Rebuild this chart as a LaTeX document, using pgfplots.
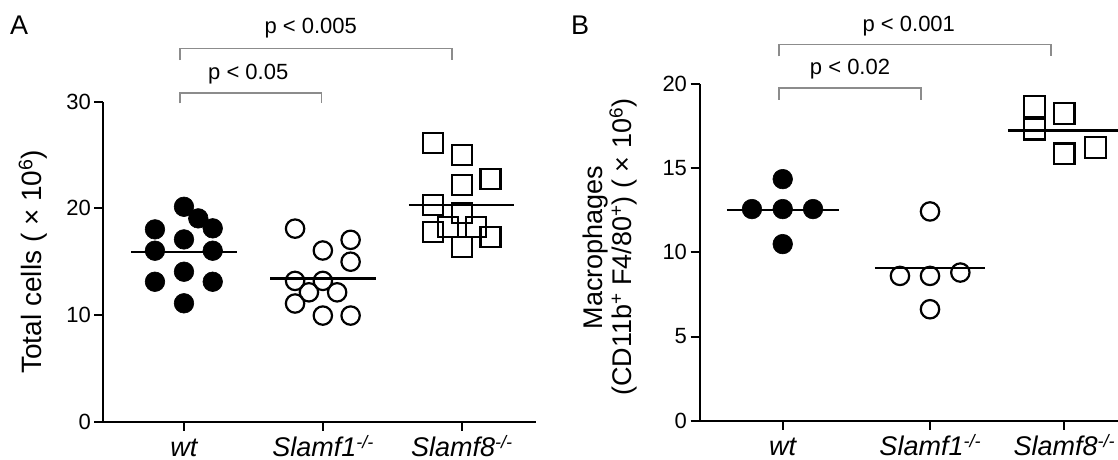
\documentclass[border=0pt]{standalone}
\usepackage{fontspec}
\setmainfont{Liberation Sans}
\usepackage{pgfplots}
\pgfplotsset{compat=1.18}

% knockout superscript on the category names
\newcommand{\ko}{\raisebox{8pt}{\fontsize{18}{18}\selectfont -/-}}

\pgfplotsset{
  dotplot/.style={
    scale only axis, anchor=south west, clip=false,
    axis lines*=left,
    axis line style={line width=2pt, black},
    tick align=outside, major tick length=9pt,
    tick style={line width=2pt, black},
    /pgf/number format/assume math mode=true,
    yticklabel style={font=\fontsize{22}{26}\selectfont},
    xticklabel style={font=\fontsize{27}{30}\selectfont\itshape,
      anchor=base, yshift=-25.8pt},
  },
  meanline/.style={black, line width=2.4pt, no marks},
  filled/.style={only marks, mark=*, mark size=9.8pt,
    mark options={fill=black, draw=black, line width=0.6pt}},
  opencirc/.style={only marks, mark=o, mark size=9.2pt,
    mark options={fill=white, draw=black, line width=2.2pt}},
  opensq/.style={only marks, mark=square, mark size=10pt,
    mark options={fill=white, draw=black, line width=2.2pt}},
}
\tikzset{
  bracket/.style={black!45, line width=1.4pt},
  plabel/.style={anchor=base, font=\fontsize{22}{26}\selectfont},
}

\begin{document}
\begin{tikzpicture}[x=1pt,y=1pt]
\useasboundingbox (0,0) rectangle (1118,460);
\clip (0,0) rectangle (1118,460);

% ---------------- panel A ----------------
\begin{axis}[dotplot,
  at={(103.3pt,38.3pt)}, width=432.4pt, height=320pt,
  xmin=-0.581, xmax=2.533, ymin=0, ymax=30,
  xtick={0,1,2},
  xticklabels={{wt},{Slamf1\ko},{Slamf8\ko}},
  ytick={0,10,20,30},
  ylabel={Total cells ( × 10\textsuperscript{6})},
  ylabel style={font=\fontsize{28}{32}\selectfont,
    at={(axis description cs:-0.163,0.5)}, anchor=center},
]
% group means
\addplot[meanline] coordinates {(-0.38,15.93) (0.38,15.93)};
\addplot[meanline] coordinates {(0.62,13.44) (1.38,13.44)};
\addplot[meanline] coordinates {(1.62,20.31) (2.38,20.31)};
% wt
\addplot[filled] coordinates {
  (0,20.15) (0.103,19.06) (0.207,18.13) (-0.209,18.03) (0,17.09)
  (-0.209,16.03) (0.207,16.03) (0,14.06) (-0.209,13.12) (0.207,13.12)
  (0,11.10)};
% Slamf1-/-
\addplot[opencirc] coordinates {
  (0.8,18.1) (1,16.05) (1.2,17.05) (1.2,15.0) (0.8,13.2) (1,13.2)
  (0.9,12.13) (1.103,12.13) (0.8,11.08) (1,9.95) (1.2,9.95)};
% Slamf8-/-
\addplot[opensq] coordinates {
  (1.795,26.15) (2,25.0) (2.208,22.72) (2,22.18) (1.795,20.31)
  (2,19.53) (1.903,18.28) (2.103,18.28) (1.795,17.81) (2.208,17.28)
  (2,16.40)};
% significance brackets
\draw[bracket] (axis cs:-0.029,29.84) -- (axis cs:-0.029,30.83)
  -- (axis cs:0.99,30.83) -- (axis cs:0.99,29.84);
\draw[bracket] (axis cs:-0.029,33.9) -- (axis cs:-0.029,35.0)
  -- (axis cs:1.93,35.0) -- (axis cs:1.93,33.9);
\node[plabel] at (axis cs:0.463,32.09) {p < 0.05};
\node[plabel] at (axis cs:0.913,36.4) {p < 0.005};
\end{axis}

% ---------------- panel B ----------------
\begin{axis}[dotplot,
  at={(699.5pt,39.3pt)}, width=425.5pt, height=336.7pt,
  xmin=-0.565, xmax=2.324, ymin=0, ymax=20,
  xtick={0,1,1.91},
  xticklabels={{wt},{Slamf1\ko},{Slamf8\ko}},
  ytick={0,5,10,15,20},
  ylabel={Macrophages\\(CD11b\textsuperscript{+} F4/80\textsuperscript{+}) ( × 10\textsuperscript{6})},
  ylabel style={font=\fontsize{27}{23}\selectfont, align=center,
    at={(axis description cs:-0.21,0.515)}, anchor=center},
]
\addplot[meanline] coordinates {(-0.379,12.53) (0.379,12.53)};
\addplot[meanline] coordinates {(0.625,9.06) (1.375,9.06)};
\addplot[meanline] coordinates {(1.528,17.24) (2.3,17.24)};
% wt
\addplot[filled] coordinates {
  (0,14.35) (-0.209,12.57) (0,12.57) (0.206,12.57) (0,10.49)};
% Slamf1-/-
\addplot[opencirc] coordinates {
  (1,12.43) (0.796,8.60) (1,8.60) (1.206,8.80) (1,6.62)};
% Slamf8-/-
\addplot[opensq, mark size=10.4pt] coordinates {
  (1.711,18.67) (1.711,17.32) (1.91,18.23) (1.91,15.85) (2.123,16.23)};
\draw[bracket] (axis cs:-0.026,19.07) -- (axis cs:-0.026,19.76)
  -- (axis cs:0.94,19.76) -- (axis cs:0.94,19.07);
\draw[bracket] (axis cs:-0.026,21.64) -- (axis cs:-0.026,22.34)
  -- (axis cs:1.821,22.34) -- (axis cs:1.821,21.64);
\node[plabel] at (axis cs:0.457,20.55) {p < 0.02};
\node[plabel] at (axis cs:0.856,23.1) {p < 0.001};
\end{axis}

% panel letters
\node[anchor=base west, inner sep=0pt, font=\fontsize{27}{30}\selectfont] at (10,425.7) {A};
\node[anchor=base west, inner sep=0pt, font=\fontsize{27}{30}\selectfont] at (571,425) {B};
\end{tikzpicture}
\end{document}
